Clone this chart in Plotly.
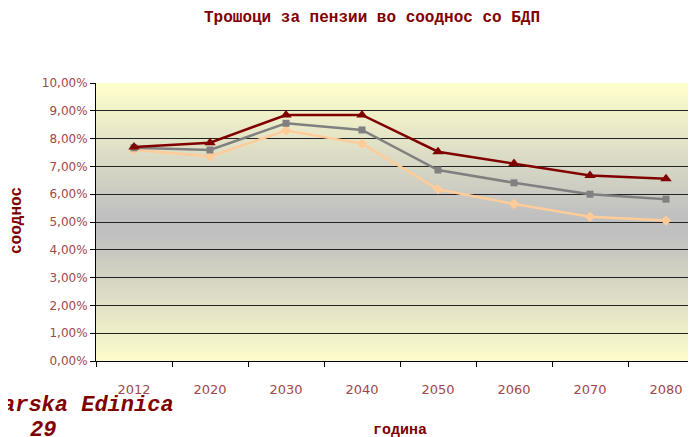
import plotly.graph_objects as go

# data (percent of GDP)
years = ["2012", "2020", "2030", "2040", "2050", "2060", "2070", "2080"]
series_red = [7.70, 7.85, 8.85, 8.85, 7.53, 7.10, 6.67, 6.56]
series_gray = [7.67, 7.59, 8.55, 8.31, 6.87, 6.41, 6.00, 5.82]
series_peach = [7.60, 7.36, 8.29, 7.82, 6.18, 5.65, 5.19, 5.05]

OFF = 8  # page body margin
W, H = 696 - OFF, 437 - OFF
# plot box in window pixels: x 96..696 (cut off on the right), y 83..361
PL, PR, PT, PB = 96, 696, 83, 361
CAT = 76  # pixels per category
TXT = "#800000"
TICK = "#A04848"
MONO = "Liberation Mono, Courier New, monospace"


def px(x):
    return (x - PL) / (PR - PL)


def py(y):
    return (PB - y) / (PB - PT)


def band_color(v):
    # yellow at the edges, gray in the middle
    t = max(0.0, abs(v - 4.9) - 0.4) / 4.7
    t = min(t, 1.0)
    gray = (192, 192, 192)
    yel = (255, 255, 204)
    c = [round(g + (y - g) * t) for g, y in zip(gray, yel)]
    return "rgb(%d,%d,%d)" % tuple(c)


fig = go.Figure()

fig.add_scatter(x=years, y=series_peach, mode="lines+markers", name="peach",
                line=dict(color="#FFCC99", width=2.5),
                marker=dict(symbol="diamond", size=8, color="#FFCC99"))
fig.add_scatter(x=years, y=series_gray, mode="lines+markers", name="gray",
                line=dict(color="#808080", width=2.5),
                marker=dict(symbol="square", size=7, color="#808080"))
fig.add_scatter(x=years, y=series_red, mode="lines+markers", name="red",
                line=dict(color="#800000", width=2.5),
                marker=dict(symbol="triangle-up", size=10, color="#800000"))

# gradient background as overlapping thin bands
shapes = []
n = 80
step = 10 / n
for i in range(n):
    y0 = step * i
    shapes.append(dict(type="rect", xref="paper", yref="y", x0=0, x1=1,
                       y0=y0, y1=min(10, y0 + 2 * step), layer="below",
                       line=dict(width=0),
                       fillcolor=band_color(y0 + step / 2)))


def note(text, x, y, size, angle=0, anchor="center"):
    return dict(text=text, x=px(x), y=py(y), xref="paper", yref="paper",
                xanchor=anchor, yanchor="middle", textangle=angle,
                showarrow=False, font=dict(family=MONO, size=size, color=TXT))


fig.update_layout(
    width=W, height=H,
    margin=dict(l=PL - OFF, r=W + OFF - PR, t=PT - OFF, b=H + OFF - PB,
                autoexpand=False),
    paper_bgcolor="white",
    plot_bgcolor="rgba(0,0,0,0)",
    showlegend=False,
    separators=",.",
    shapes=shapes,
    annotations=[
        note("<b>Трошоци за пензии во сооднос со БДП</b>", 372, 18, 16),
        note("<b>сооднос</b>", 17, 221, 16, angle=-90),
        note("<b>година</b>", 400, 430, 15),
        note("<b><i>arska Edinica</i></b>", 0, 405, 22, anchor="left"),
        note("<b><i>29</i></b>", 43, 430, 22),
    ],
)

fig.update_xaxes(
    type="category", range=[-0.5, -0.5 + (PR - PL) / CAT],
    showline=True, linecolor="black", linewidth=1,
    ticks="outside", tickson="boundaries", ticklen=5, tickcolor="black",
    showgrid=False, ticklabelstandoff=16,
    tickfont=dict(family="DejaVu Sans", size=13, color=TICK),
)
fig.update_yaxes(
    range=[0, 10], dtick=1, tickformat=".2f", ticksuffix="%",
    showline=True, linecolor="black", linewidth=1,
    ticks="outside", ticklen=5, tickcolor="black",
    showgrid=True, gridcolor="#222222", gridwidth=1, zeroline=False,
    tickfont=dict(family="DejaVu Sans", size=12, color=TICK),
)

fig.write_html("out.html")
